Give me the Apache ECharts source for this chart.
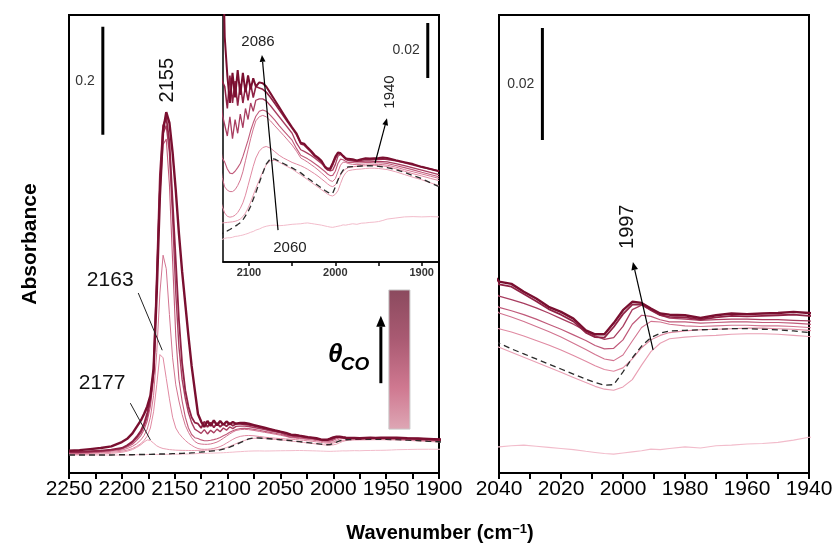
<!DOCTYPE html>
<html><head><meta charset="utf-8">
<script src="https://cdn.jsdelivr.net/npm/echarts@6/dist/echarts.min.js"></script>
<style>html,body{margin:0;padding:0;background:#fff}#c{width:833px;height:550px}</style>
</head><body><div id="c"></div><script>
// ---------------- data (wavenumber in cm^-1, absorbance a.u.) ----------------
const wavenumbers = [
 2250, 2240, 2230, 2220, 2210, 2200,
 2195, 2190, 2186, 2182, 2179, 2176, 2173, 2170, 2167, 2164, 2161, 2158, 2155, 2152, 2149, 2146, 2143, 2140, 2137, 2134, 2131,
 2128, 2125, 2122, 2119, 2116, 2113, 2110, 2107, 2104, 2101, 2098, 2095, 2092,
 2088, 2084, 2080, 2075, 2070, 2065, 2060, 2055, 2050, 2045,
 2040, 2036, 2032, 2028, 2024, 2020, 2016, 2012, 2009, 2006, 2003, 2000, 1997, 1994, 1991, 1988, 1985,
 1980, 1975, 1970, 1965, 1960, 1955, 1950, 1945, 1940,
 1930, 1920, 1910, 1900, 1890, 1880
];
// lowest coverage (light pink)
const spec0 = [
 0, 0, 0, 0, 0, 0,
 0, 0, 0.0005, 0.0005, 0.0005, 0.001, 0.001, 0.001, 0.001, 0.001, 0.001, 0.0012, 0.0012, 0.0015, 0.0015, 0.0015, 0.0015, 0.0018, 0.002, 0.002, 0.0024,
 0.0028, 0.003, 0.003, 0.0032, 0.0035, 0.0036, 0.0038, 0.004, 0.0043, 0.0046, 0.005, 0.0053, 0.0058,
 0.0062, 0.0068, 0.0072, 0.0075, 0.0076, 0.0074, 0.0075, 0.0077, 0.0079, 0.008,
 0.0081, 0.0083, 0.0084, 0.0082, 0.008, 0.0078, 0.0076, 0.0073, 0.0071, 0.0069, 0.0068, 0.007, 0.0072, 0.0074, 0.0077, 0.0076, 0.0078,
 0.0081, 0.0079, 0.0083, 0.0084, 0.0086, 0.0087, 0.0089, 0.0093, 0.0098,
 0.0102, 0.0106, 0.0107, 0.0106, 0.0107, 0.0106
];
// dashed reference spectrum
const specRef = [
 0, 0, 0, 0, 0, 0.0005,
 0.0005, 0.0005, 0.0008, 0.001, 0.001, 0.0012, 0.0012, 0.0015, 0.0015, 0.0018, 0.002, 0.002, 0.0022, 0.0025, 0.0025, 0.0028, 0.003, 0.0032, 0.0035, 0.004, 0.0045,
 0.0052, 0.0055, 0.006, 0.0066, 0.0072, 0.0078, 0.0085, 0.0095, 0.011, 0.0125, 0.0145, 0.017, 0.0195,
 0.023, 0.0265, 0.0298, 0.0318, 0.0316, 0.0308, 0.03, 0.0292, 0.0284, 0.0275,
 0.0266, 0.0256, 0.0247, 0.0238, 0.0229, 0.022, 0.0211, 0.0202, 0.0196, 0.0191, 0.0192, 0.0215, 0.024, 0.0261, 0.0276, 0.0284, 0.0288,
 0.0289, 0.029, 0.0291, 0.0292, 0.0292, 0.0291, 0.029, 0.0288, 0.0285,
 0.0278, 0.0268, 0.0256, 0.0245, 0.023, 0.0216
];
// 2177 spectrum
const spec1 = [
 0.001, 0.001, 0.0015, 0.002, 0.003, 0.005,
 0.007, 0.01, 0.014, 0.019, 0.024, 0.028, 0.027, 0.022, 0.017, 0.014, 0.012, 0.011, 0.01, 0.0095, 0.009, 0.0088, 0.0086, 0.0085, 0.0084, 0.0083, 0.0084,
 0.0085, 0.0086, 0.0087, 0.0088, 0.009, 0.0093, 0.0098, 0.0107, 0.012, 0.0138, 0.016, 0.0185, 0.021,
 0.024, 0.027, 0.0295, 0.031, 0.0312, 0.0305, 0.0296, 0.0288, 0.028, 0.0269,
 0.0259, 0.025, 0.0241, 0.0232, 0.0223, 0.0214, 0.0205, 0.0196, 0.0189, 0.0184, 0.0182, 0.0188, 0.0201, 0.0227, 0.0251, 0.0266, 0.0274,
 0.0277, 0.0279, 0.028, 0.0282, 0.0283, 0.0283, 0.0282, 0.028, 0.0278,
 0.027, 0.026, 0.025, 0.0241, 0.023, 0.022
];
// 2163 spectrum
const spec2 = [
 0.002, 0.002, 0.003, 0.004, 0.005, 0.007,
 0.009, 0.012, 0.016, 0.021, 0.027, 0.035, 0.05, 0.08, 0.13, 0.186, 0.18, 0.142, 0.104, 0.07, 0.05, 0.04, 0.033, 0.027, 0.022, 0.018, 0.0145,
 0.012, 0.0108, 0.0105, 0.0107, 0.0112, 0.0122, 0.0137, 0.0157, 0.0185, 0.022, 0.0255, 0.029, 0.032,
 0.0345, 0.0358, 0.0362, 0.0356, 0.0343, 0.033, 0.032, 0.0312, 0.0304, 0.0298,
 0.0292, 0.0286, 0.0279, 0.0271, 0.0263, 0.0254, 0.0244, 0.0234, 0.0226, 0.0219, 0.0216, 0.0222, 0.0238, 0.0258, 0.0272, 0.028, 0.0285,
 0.0288, 0.029, 0.0291, 0.0292, 0.0293, 0.0293, 0.0292, 0.0291, 0.0289,
 0.0281, 0.0272, 0.0263, 0.0255, 0.0246, 0.0238
];
const spec3 = [
 0.003, 0.003, 0.004, 0.005, 0.007, 0.009,
 0.012, 0.016, 0.021, 0.028, 0.036, 0.048, 0.07, 0.11, 0.19, 0.3, 0.37, 0.345, 0.26, 0.18, 0.13, 0.1, 0.075, 0.055, 0.042, 0.032, 0.025,
 0.0215, 0.0203, 0.0198, 0.0198, 0.0205, 0.022, 0.024, 0.027, 0.031, 0.035, 0.039, 0.0425, 0.0455,
 0.047, 0.0475, 0.047, 0.0455, 0.0437, 0.042, 0.0403, 0.0385, 0.0367, 0.0345,
 0.032, 0.0313, 0.0305, 0.0296, 0.0287, 0.0277, 0.0266, 0.0255, 0.0246, 0.0238, 0.0235, 0.0245, 0.027, 0.0294, 0.0305, 0.0304, 0.03,
 0.0297, 0.0296, 0.0297, 0.0298, 0.0298, 0.0297, 0.0297, 0.0296, 0.0294,
 0.0287, 0.0278, 0.027, 0.0262, 0.0254, 0.0246
];
const spec4 = [
 0.004, 0.004, 0.005, 0.006, 0.008, 0.011,
 0.015, 0.02, 0.027, 0.036, 0.047, 0.063, 0.09, 0.14, 0.3, 0.48, 0.575, 0.585, 0.5, 0.36, 0.22, 0.14, 0.1, 0.07, 0.05, 0.038, 0.032,
 0.0305, 0.028, 0.0265, 0.0263, 0.0272, 0.0285, 0.03, 0.0325, 0.0355, 0.0385, 0.042, 0.0448, 0.0472,
 0.049, 0.0495, 0.049, 0.0475, 0.0458, 0.0438, 0.042, 0.0402, 0.0385, 0.0355,
 0.033, 0.0324, 0.0317, 0.0309, 0.03, 0.0291, 0.0281, 0.0271, 0.0262, 0.0256, 0.0257, 0.0272, 0.03, 0.0316, 0.0314, 0.0308, 0.0304,
 0.0304, 0.0302, 0.0303, 0.0304, 0.0304, 0.0303, 0.0303, 0.0302, 0.03,
 0.0293, 0.0285, 0.0277, 0.0268, 0.026, 0.0252
];
const spec5 = [
 0.005, 0.005, 0.006, 0.007, 0.009, 0.012,
 0.017, 0.023, 0.031, 0.041, 0.053, 0.07, 0.1, 0.15, 0.32, 0.5, 0.595, 0.61, 0.56, 0.44, 0.3, 0.2, 0.14, 0.105, 0.078, 0.06, 0.048,
 0.044, 0.04, 0.047, 0.039, 0.046, 0.041, 0.048, 0.043, 0.05, 0.046, 0.052, 0.049, 0.053,
 0.0535, 0.0535, 0.0528, 0.051, 0.049, 0.047, 0.045, 0.043, 0.041, 0.0375,
 0.035, 0.0344, 0.0337, 0.0329, 0.032, 0.031, 0.03, 0.0288, 0.0279, 0.0273, 0.0276, 0.0296, 0.0326, 0.0334, 0.0326, 0.0316, 0.0311,
 0.0309, 0.0307, 0.0308, 0.0309, 0.0309, 0.0308, 0.0308, 0.0307, 0.0306,
 0.03, 0.0292, 0.0284, 0.0276, 0.0268, 0.026
];
const spec6 = [
 0.006, 0.006, 0.007, 0.008, 0.01, 0.013,
 0.018, 0.025, 0.034, 0.045, 0.058, 0.078, 0.105, 0.155, 0.33, 0.52, 0.61, 0.625, 0.58, 0.47, 0.36, 0.25, 0.17, 0.12, 0.09, 0.07, 0.06,
 0.058, 0.05, 0.062, 0.052, 0.06, 0.051, 0.059, 0.052, 0.058, 0.053, 0.059, 0.054, 0.058,
 0.0575, 0.057, 0.056, 0.054, 0.0518, 0.0495, 0.0473, 0.045, 0.0428, 0.0405,
 0.0371, 0.0367, 0.0354, 0.0341, 0.0327, 0.0317, 0.0305, 0.0285, 0.0277, 0.0276, 0.0295, 0.0318, 0.0335, 0.0335, 0.0325, 0.0316, 0.0313,
 0.0312, 0.0308, 0.0312, 0.0315, 0.0314, 0.0315, 0.0316, 0.0317, 0.0315,
 0.031, 0.0303, 0.0295, 0.0287, 0.028, 0.0273
];
// highest coverage (dark maroon)
const spec7 = [
 0.008, 0.009, 0.011, 0.013, 0.016, 0.024,
 0.03, 0.04, 0.052, 0.064, 0.076, 0.09, 0.11, 0.16, 0.3, 0.48, 0.6, 0.635, 0.615, 0.56, 0.49, 0.41, 0.34, 0.28, 0.22, 0.165, 0.12,
 0.076, 0.062, 0.052, 0.063, 0.054, 0.064, 0.055, 0.063, 0.056, 0.062, 0.057, 0.061, 0.058,
 0.0595, 0.0592, 0.058, 0.0555, 0.053, 0.0505, 0.048, 0.0455, 0.0432, 0.041,
 0.0376, 0.0372, 0.0358, 0.0346, 0.0331, 0.0322, 0.031, 0.0289, 0.0282, 0.0282, 0.0302, 0.0325, 0.034, 0.0338, 0.0328, 0.0319, 0.0317,
 0.0316, 0.0311, 0.0316, 0.0319, 0.0318, 0.0319, 0.032, 0.0322, 0.032,
 0.0312, 0.0305, 0.0298, 0.0288, 0.028, 0.0272
];
const mainTicks = { min: 1900, max: 2250, step: 50 };
const insetTicks = [2100, 2050, 2000, 1950, 1900];
const insetLabels = [2100, 2000, 1900];
const rightTicks = { min: 1940, max: 2040, step: 20 };
// scale bars: [grid, wavenumber position, base absorbance, size]
const scaleBars = [
  { grid: 0, wn: 2218, base: 0.593, size: 0.2, label: '0.2' },
  { grid: 1, wn: 1893, base: 0.0611, size: 0.02, label: '0.02' },
  { grid: 2, wn: 2026, base: 0.0629, size: 0.02, label: '0.02' }
];

// ---------------- styling ----------------
const FONT = '"Liberation Sans", Arial, Helvetica, sans-serif';
const curves = [
  { v: spec0,   color: '#f2bccb', w: [1, 1, 1.1] },
  { v: spec1,   color: '#e9a0b4', w: [1, 1, 1.1] },
  { v: spec2,   color: '#e08aa2', w: [1, 1, 1.1] },
  { v: spec3,   color: '#d27490', w: [1, 1, 1.1] },
  { v: spec4,   color: '#c05a7a', w: [1.1, 1.1, 1.2] },
  { v: specRef, color: '#2b2b2b', w: [1.4, 1.3, 1.3], dash: true },
  { v: spec5,   color: '#a83d60', w: [1.4, 1.3, 1.3] },
  { v: spec6,   color: '#8f2245', w: [1.8, 1.6, 1.8] },
  { v: spec7,   color: '#7a0f30', w: [2.4, 2, 2.4] }
];
const chart = echarts.init(document.getElementById('c'), null, { renderer: 'canvas', width: 833, height: 550 });
const plain = v => String(v);

const tickStyle = { color: '#000', width: 2 };
const series = [];
[0, 1, 2].forEach(g => curves.forEach(c => series.push({
  type: 'line', xAxisIndex: g, yAxisIndex: g,
  data: wavenumbers.map((w, j) => [w, c.v[j]]),
  symbol: 'none', showSymbol: false, silent: true, clip: true, animation: false,
  lineStyle: { color: c.color, width: c.w[g], type: c.dash ? [6, 4] : 'solid' }, z: 2
})));
scaleBars.forEach(b => series.push({
  type: 'line', xAxisIndex: b.grid, yAxisIndex: b.grid,
  data: [[b.wn, b.base], [b.wn, b.base + b.size]],
  symbol: 'none', silent: true, animation: false, lineStyle: { color: '#000', width: 3 }, z: 3
}));

const option = {
  animation: false,
  backgroundColor: '#fff',
  grid: [
    { left: 69, top: 15, width: 370, height: 458, show: true, borderColor: '#000', borderWidth: 2, backgroundColor: 'transparent', containLabel: false, outerBoundsMode: 'none' },
    { left: 223, top: 15, width: 216, height: 247, show: true, borderColor: '#000', borderWidth: 1.5, backgroundColor: 'transparent', containLabel: false, outerBoundsMode: 'none' },
    { left: 499, top: 15, width: 310, height: 458, show: true, borderColor: '#000', borderWidth: 2, backgroundColor: 'transparent', containLabel: false, outerBoundsMode: 'none' }
  ],
  xAxis: [
    { type: 'value', gridIndex: 0, inverse: true, min: mainTicks.min, max: mainTicks.max, interval: mainTicks.step,
      axisLine: { show: true, onZero: false, lineStyle: tickStyle },
      axisTick: { show: true, inside: false, length: 6, lineStyle: tickStyle },
      minorTick: { show: true, splitNumber: 2, length: 6, lineStyle: tickStyle },
      splitLine: { show: false }, minorSplitLine: { show: false },
      axisLabel: { fontSize: 21, color: '#000', fontFamily: FONT, margin: 6, showMinLabel: true, showMaxLabel: true, formatter: plain } },
    { type: 'value', gridIndex: 1, inverse: true, min: 1880, max: 2130,
      axisLine: { show: true, onZero: false, lineStyle: { color: '#000', width: 1.5 } },
      axisTick: { show: true, inside: false, length: 4, customValues: insetTicks, lineStyle: { color: '#000', width: 1.5 } },
      splitLine: { show: false },
      axisLabel: { fontSize: 11, fontWeight: 'bold', color: '#333', fontFamily: FONT, margin: 5, customValues: insetLabels, formatter: plain } },
    { type: 'value', gridIndex: 2, inverse: true, min: rightTicks.min, max: rightTicks.max, interval: rightTicks.step,
      axisLine: { show: true, onZero: false, lineStyle: tickStyle },
      axisTick: { show: true, inside: false, length: 6, lineStyle: tickStyle },
      minorTick: { show: true, splitNumber: 2, length: 6, lineStyle: tickStyle },
      splitLine: { show: false }, minorSplitLine: { show: false },
      axisLabel: { fontSize: 21, color: '#000', fontFamily: FONT, margin: 6, showMinLabel: true, showMaxLabel: true, formatter: plain } }
  ],
  yAxis: [
    { type: 'value', gridIndex: 0, min: -0.0333, max: 0.8148, show: false, splitLine: { show: false } },
    { type: 'value', gridIndex: 1, min: -0.0058, max: 0.084, show: false, splitLine: { show: false } },
    { type: 'value', gridIndex: 2, min: 0.00343, max: 0.08521, show: false, splitLine: { show: false } }
  ],
  series
};
chart.setOption(option);

// ---------------- annotations (anchored in data coordinates) ----------------
const px = (g, wn, v) => chart.convertToPixel({ gridIndex: g }, [wn, v]);
function txt(p, text, size, o = {}) {
  return { type: 'text', x: p[0], y: p[1], rotation: o.rot || 0, z: 20,
    style: { text, fontSize: size, fontFamily: FONT, fontWeight: o.bold ? 'bold' : 'normal',
      fontStyle: o.italic ? 'italic' : 'normal', fill: o.color || '#111',
      align: o.align || 'center', verticalAlign: o.va || 'middle', rich: o.rich } };
}
function seg(p0, p1, w, color) {
  return { type: 'line', z: 15, shape: { x1: p0[0], y1: p0[1], x2: p1[0], y2: p1[1] }, style: { stroke: color || '#222', lineWidth: w } };
}
function arrow(p0, p1, w, head) {
  const dx = p1[0] - p0[0], dy = p1[1] - p0[1], L = Math.hypot(dx, dy);
  const ux = dx / L, uy = dy / L, bx = p1[0] - ux * head, by = p1[1] - uy * head, hw = head * 0.42;
  return [
    seg(p0, [bx, by], w, '#000'),
    { type: 'polygon', z: 15, shape: { points: [[p1[0], p1[1]], [bx - uy * hw, by + ux * hw], [bx + uy * hw, by - ux * hw]] }, style: { fill: '#000' } }
  ];
}
const G = [];
// scale bar labels
scaleBars.forEach(b => {
  const p = px(b.grid, b.wn, b.base + b.size / 2);
  G.push(txt([p[0] - 8, p[1]], b.label, 14, { align: 'right', color: '#333' }));
});
// main panel
G.push(txt(px(0, 2157, 0.694), '2155', 20, { rot: Math.PI / 2 }));
G.push(txt(px(0, 2211, 0.324), '2163', 21));
G.push(seg(px(0, 2184.5, 0.30), px(0, 2161.8, 0.194), 1));
G.push(txt(px(0, 2218.7, 0.133), '2177', 21));
G.push(seg(px(0, 2192, 0.096), px(0, 2173, 0.028), 1));
// coverage arrow + colour bar + theta label
G.push(...arrow(px(0, 1955, 0.133), px(0, 1955, 0.258), 3, 11));
const cb0 = px(0, 1947.4, 0.3056), cb1 = px(0, 1927.5, 0.048);
G.push({ type: 'rect', z: 12, shape: { x: cb0[0], y: cb0[1], width: cb1[0] - cb0[0], height: cb1[1] - cb0[1] },
  style: { stroke: '#c9c9c9', lineWidth: 1,
    fill: new echarts.graphic.LinearGradient(0, 0, 0, 1, [
      { offset: 0, color: '#8b4a5e' }, { offset: 0.35, color: '#a95a72' },
      { offset: 0.7, color: '#cf7890' }, { offset: 1, color: '#dea7b5' }]) } });
const th = px(0, 1966, 0.176);
G.push(txt([th[0] - 34, th[1] - 5], 'θ', 26, { bold: true, italic: true, color: '#000' }));
G.push(txt([th[0], th[1] + 5], 'CO', 19, { bold: true, italic: true, color: '#000', align: 'right' }));
// inset
G.push(txt(px(1, 2089.5, 0.0742), '2086', 15, { color: '#222' }));
G.push(txt(px(1, 2052.5, -0.0007), '2060', 15, { color: '#222' }));
G.push(txt(px(1, 1936.7, 0.056), '1940', 15, { rot: Math.PI / 2, color: '#222' }));
G.push(...arrow(px(1, 2066.3, 0.0058), px(1, 2084.9, 0.0695), 1.2, 7));
G.push(...arrow(px(1, 1954, 0.0302), px(1, 1940.2, 0.0465), 1.2, 7));
// right panel
G.push(txt(px(2, 1998.7, 0.0474), '1997', 20, { rot: Math.PI / 2 }));
G.push(...arrow(px(2, 1990.3, 0.0254), px(2, 1996.8, 0.0411), 1.2, 8));
// axis titles
G.push(txt([30, 244], 'Absorbance', 21, { bold: true, rot: Math.PI / 2, color: '#000' }));
G.push(txt([440, 533], 'Wavenumber (cm{s|−1})', 20, { bold: true, color: '#000',
  rich: { s: { fontSize: 13, fontWeight: 'bold', fontFamily: FONT, verticalAlign: 'top', padding: [0, 0, 8, 0] } } }));
chart.setOption({ graphic: G });
</script></body></html>
